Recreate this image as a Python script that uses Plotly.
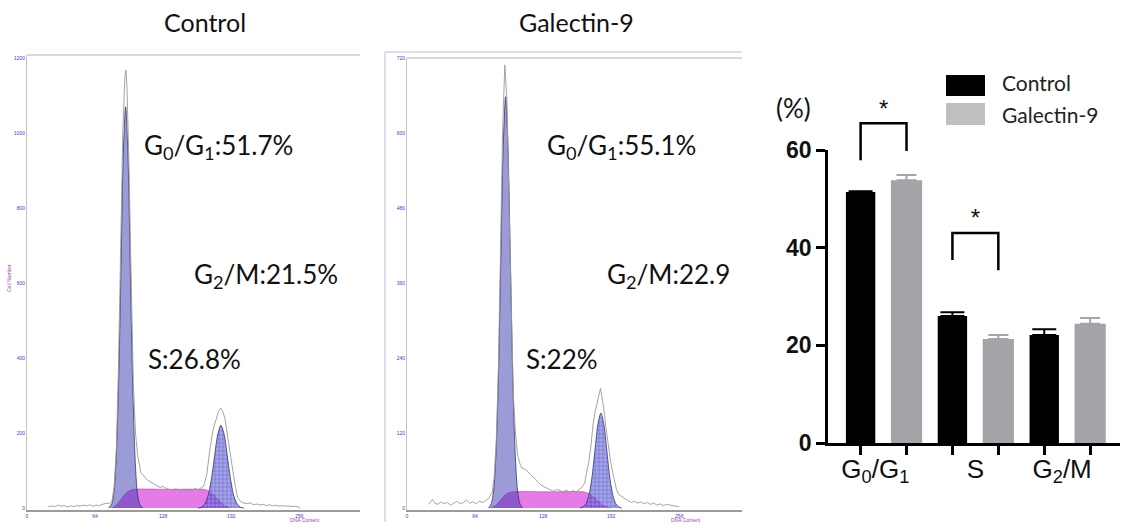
import numpy as np
import plotly.graph_objects as go

W, H = 1121, 527

# ---------------- data ----------------
hist_x_ticks = [0, 64, 128, 192, 256]
ctrl_y_ticks = [0, 200, 400, 600, 800, 1000, 1200]
gal_y_ticks = [0, 120, 240, 360, 480, 600, 720]

# Control histogram: raw counts (gray trace)
ctrl_raw_ch = [20, 23, 26, 29, 32, 35, 38, 41, 44, 47, 50, 53, 56, 59, 62, 65, 68, 71, 74, 77,
               80, 82, 84, 86, 88, 90, 92, 93, 94, 96, 98, 100, 102, 104, 107, 110, 113, 116, 119,
               122, 125, 128, 131, 134, 137, 140, 143, 146, 149, 152, 155, 158, 161, 164, 166, 169,
               172, 175, 178, 180, 182, 184, 186, 188, 190, 192, 194, 196, 198, 200, 203, 207, 210,
               213, 216, 219, 222, 225, 228, 231, 234, 237, 240, 243, 246, 249, 252, 255, 257]
ctrl_raw_n = [3, 6, 4, 8, 5, 7, 3, 6, 4, 7, 5, 8, 6, 9, 5, 8, 7, 10, 13, 12,
              20, 60, 160, 380, 700, 1000, 1150, 1168, 1120, 900, 600, 330, 200, 140, 95, 85, 75, 70, 66,
              60, 55, 58, 52, 50, 48, 52, 46, 49, 44, 50, 46, 52, 49, 55, 58, 90,
              160, 210, 240, 258, 267, 258, 240, 200, 160, 120, 90, 55, 28, 20, 14, 12, 14,
              9, 11, 8, 10, 7, 9, 6, 8, 5, 7, 5, 6, 4, 5, 3, 0]
# Control fitted components
ctrl_g1_ch = [76.7, 79.7, 81.9, 84.0, 86.2, 88.4, 90.5, 92.7, 94.9, 97.0, 99.2, 101.4, 103.5, 105.7, 108.7]
ctrl_g1_n = [0, 12, 47, 145, 347, 649, 944, 1070, 944, 649, 347, 145, 47, 12, 0]
ctrl_s_ch = [80, 84, 88, 92, 96, 100, 135, 166, 170, 175, 180, 185, 190]
ctrl_s_n = [0, 8, 22, 37, 46, 50, 50, 50, 47, 37, 22, 8, 0]
ctrl_g2_ch = [160.6, 163.7, 166.8, 169.9, 173.0, 176.1, 179.2, 182.3, 185.4, 188.5, 191.6, 194.7, 197.8, 200.9, 204.0]
ctrl_g2_n = [0, 2, 10, 30, 72, 134, 195, 221, 195, 134, 72, 30, 10, 2, 0]

# Galectin-9 histogram: raw counts
gal_raw_ch = [20, 22, 24, 26, 29, 32, 35, 38, 41, 44, 47, 50, 53, 56, 59, 62, 65, 68, 71, 74, 77,
              80, 82, 84, 86, 88, 90, 92, 94, 96, 98, 100, 102, 104, 106, 108, 111, 114, 117, 120,
              123, 126, 129, 132, 135, 138, 141, 144, 147, 150, 153, 156, 159, 162, 165, 167, 169,
              171, 173, 175, 177, 179, 181, 182, 183, 185, 187, 189, 191, 193, 195, 197, 199, 202,
              205, 208, 211, 214, 217, 220, 223, 226, 229, 232, 235, 238, 241, 244, 247, 250, 253, 256]
gal_raw_n = [6, 10, 14, 8, 6, 10, 7, 9, 5, 8, 11, 7, 9, 13, 8, 10, 7, 11, 9, 12, 16,
             25, 50, 110, 230, 420, 610, 709, 650, 480, 300, 180, 120, 85, 72, 64, 62, 58, 52, 48,
             42, 37, 34, 31, 29, 27, 30, 28, 26, 29, 25, 28, 26, 30, 34, 40, 55,
             75, 100, 135, 155, 172, 188, 192, 180, 160, 130, 100, 80, 60, 45, 30, 22, 18,
             15, 12, 9, 11, 8, 10, 7, 9, 6, 8, 5, 7, 4, 6, 5, 4, 3, 2]
gal_g1_ch = [76.7, 79.2, 81.5, 83.7, 86.0, 88.2, 90.5, 92.7, 94.9, 97.2, 99.4, 101.7, 103.9, 106.2, 108.7]
gal_g1_n = [0, 7, 29, 89, 214, 399, 581, 658, 581, 399, 214, 89, 29, 7, 0]
gal_s_ch = [79, 83, 87, 91, 95, 99, 135, 166, 170, 175, 180, 185, 191]
gal_s_n = [0, 4, 11, 19, 24, 26, 26, 26, 24, 19, 11, 4, 0]
gal_g2_ch = [162.7, 165.5, 168.3, 171.1, 173.9, 176.7, 179.5, 182.3, 185.1, 187.9, 190.7, 193.5, 196.3, 199.1, 201.9]
gal_g2_n = [0, 2, 7, 21, 49, 92, 134, 152, 134, 92, 49, 21, 7, 2, 0]

ctrl_labels = ["G<sub>0</sub>/G<sub>1</sub>:51.7%", "G<sub>2</sub>/M:21.5%", "S:26.8%"]
gal_labels = ["G<sub>0</sub>/G<sub>1</sub>:55.1%", "G<sub>2</sub>/M:22.9", "S:22%"]

# Bar chart
phases = ["G<sub>0</sub>/G<sub>1</sub>", "S", "G<sub>2</sub>/M"]
ctrl_pct = [51.4, 26.0, 22.1]
ctrl_err = [0.15, 0.8, 1.2]
gal_pct = [53.8, 21.3, 24.4]
gal_err = [1.1, 0.8, 1.2]
bar_y_ticks = [0, 20, 40, 60]
# significance brackets (pairs of bar indices) and heights in %
sig_pairs = [(0, 1), (2, 3)]
sig_top = [65.5, 43.0]
sig_left_end = [57.9, 37.5]
sig_right_end = [59.8, 35.4]
sig_star_y = [67.9, 45.6]

# ---------------- styling ----------------
PINK = "#e67ae6"
G1_FILL = "rgba(55,55,175,0.5)"
G2_BG = "rgba(62,62,198,0.62)"
RAW = "#9a9a9a"
BLUE_TXT = "#3a3ae0"
MAG_TXT = "#b040b0"
GAL_GRAY = "#a3a3a8"


def px(x):
    return x / W


def py(y):
    return 1 - y / H


fig = go.Figure()


def add_hist(xa, ya, raw_ch, raw_n, g1_ch, g1_n, s_ch, s_n, g2_ch, g2_n):
    common = dict(xaxis=xa, yaxis=ya, hoverinfo="skip", showlegend=False, mode="lines")
    fig.add_trace(go.Scatter(x=s_ch, y=s_n, fill="tozeroy", fillcolor=PINK,
                             line=dict(color="rgba(150,60,150,0.7)", width=0.7, shape="spline", smoothing=0.8),
                             **common))
    fig.add_trace(go.Scatter(x=g1_ch, y=g1_n, fill="tozeroy", fillcolor=G1_FILL,
                             line=dict(color="rgba(45,45,100,0.85)", width=0.9, shape="spline", smoothing=0.8),
                             **common))
    fig.add_trace(go.Scatter(x=g2_ch, y=g2_n, fill="tozeroy",
                             fillpattern=dict(shape="+", bgcolor=G2_BG, fgcolor="rgba(255,255,255,0.6)",
                                              size=4, solidity=0.2, fillmode="replace"),
                             line=dict(color="rgba(45,45,110,0.85)", width=0.9, shape="spline", smoothing=0.8),
                             **common))
    fig.add_trace(go.Scatter(x=raw_ch, y=raw_n, line=dict(color=RAW, width=0.9), **common))


add_hist("x", "y", ctrl_raw_ch, ctrl_raw_n, ctrl_g1_ch, ctrl_g1_n, ctrl_s_ch, ctrl_s_n, ctrl_g2_ch, ctrl_g2_n)
add_hist("x2", "y2", gal_raw_ch, gal_raw_n, gal_g1_ch, gal_g1_n, gal_s_ch, gal_s_n, gal_g2_ch, gal_g2_n)

# bars
idx = np.arange(len(phases))
x_ctrl = 2 * idx
x_gal = 2 * idx + 1
fig.add_trace(go.Bar(x=x_ctrl, y=ctrl_pct, width=0.64, marker=dict(color="black", line=dict(width=0)),
                     error_y=dict(type="data", array=ctrl_err, arrayminus=[0] * len(ctrl_err), symmetric=False,
                                  color="black", thickness=2, width=12),
                     xaxis="x3", yaxis="y3", showlegend=False, hoverinfo="skip"))
fig.add_trace(go.Bar(x=x_gal, y=gal_pct, width=0.68, marker=dict(color=GAL_GRAY, line=dict(width=0)),
                     error_y=dict(type="data", array=gal_err, arrayminus=[0] * len(gal_err), symmetric=False,
                                  color=GAL_GRAY, thickness=2, width=10),
                     xaxis="x3", yaxis="y3", showlegend=False, hoverinfo="skip"))
# invisible trace so that the category-label axis is drawn
fig.add_trace(go.Scatter(x=[(a + b) / 2 for a, b in zip(x_ctrl, x_gal)], y=[0] * len(phases), mode="markers",
                         marker=dict(opacity=0), xaxis="x4", yaxis="y3", showlegend=False, hoverinfo="skip"))

# significance brackets
bx, by, sx = [], [], []
for (a, b), top, le, re in zip(sig_pairs, sig_top, sig_left_end, sig_right_end):
    bx += [a, a, b, b, None]
    by += [le, top, top, re, None]
    sx.append((a + b) / 2)
fig.add_trace(go.Scatter(x=bx, y=by, mode="lines", line=dict(color="black", width=2.5),
                         xaxis="x3", yaxis="y4", showlegend=False, hoverinfo="skip", cliponaxis=False))
fig.add_trace(go.Scatter(x=sx, y=sig_star_y, mode="text", text=["*"] * len(sx),
                         textfont=dict(family="Liberation Sans", size=24, color="#111"),
                         xaxis="x3", yaxis="y4", showlegend=False, hoverinfo="skip", cliponaxis=False))

# ---------------- axes ----------------
hist_tick = dict(size=5, color=BLUE_TXT, family="Liberation Sans")
bar_dom_y = [py(443), py(150)]
bar_range = [0, 60]
y4_top = 1.0
y4_range = [0, bar_range[1] * (y4_top - bar_dom_y[0]) / (bar_dom_y[1] - bar_dom_y[0])]
x3_range = [-0.71, 5.65]

fig.update_layout(
    width=W, height=H, margin=dict(l=0, r=0, t=0, b=0, autoexpand=False),
    paper_bgcolor="white", plot_bgcolor="rgba(0,0,0,0)",
    xaxis=dict(domain=[px(27), px(360)], range=[0, 313], anchor="y", tickvals=hist_x_ticks,
               tickfont=hist_tick, showline=True, linecolor="#9a9a9a", linewidth=2, ticks="",
               showgrid=False, zeroline=False, automargin=False),
    yaxis=dict(domain=[py(510), py(55)], range=[-5, 1208], anchor="x", tickvals=ctrl_y_ticks,
               tickfont=hist_tick, showline=True, linecolor="#c4c4c4", linewidth=1, ticks="",
               showgrid=False, zeroline=False, automargin=False),
    xaxis2=dict(domain=[px(407), px(742)], range=[0, 315], anchor="y2", tickvals=hist_x_ticks,
                tickfont=hist_tick, showline=True, linecolor="#9a9a9a", linewidth=2, ticks="",
                showgrid=False, zeroline=False, automargin=False),
    yaxis2=dict(domain=[py(510), py(58)], range=[-3, 720], anchor="x2", tickvals=gal_y_ticks,
                tickfont=hist_tick, showline=True, linecolor="#c4c4c4", linewidth=1, ticks="",
                showgrid=False, zeroline=False, automargin=False),
    xaxis3=dict(domain=[px(828), px(1120)], range=x3_range, anchor="y3", tickvals=list(range(6)),
                ticktext=[""] * 6, ticks="outside", ticklen=9, tickwidth=2.5, tickcolor="black",
                showline=True, linecolor="black", linewidth=2.5, showgrid=False, zeroline=False,
                automargin=False),
    xaxis4=dict(overlaying="x3", range=x3_range, anchor="y3", side="bottom",
                tickvals=[0.5 - 0.18, 2.5, 4.5 - 0.11], ticktext=phases, ticks="", ticklabelstandoff=8,
                tickfont=dict(family="Liberation Sans", size=26, color="#111"),
                showline=False, showgrid=False, zeroline=False, automargin=False),
    yaxis3=dict(domain=bar_dom_y, range=bar_range, anchor="x3", tickvals=bar_y_ticks,
                ticks="outside", ticklen=9, tickwidth=2.5, tickcolor="black",
                tickfont=dict(family="Liberation Sans", size=23, color="#111", weight="bold"),
                showline=True, linecolor="black", linewidth=2.5, showgrid=False, zeroline=False,
                automargin=False),
    yaxis4=dict(domain=[bar_dom_y[0], y4_top], range=y4_range, anchor="x3", visible=False,
                automargin=False),
)

# ---------------- frames ----------------
shapes = [
    dict(type="line", xref="x domain", yref="y domain", x0=0, x1=1, y0=1, y1=1,
         line=dict(color="#d5d9e3", width=2)),
    dict(type="line", xref="x2 domain", yref="y2 domain", x0=0, x1=1, y0=1, y1=1,
         line=dict(color="#d5d9e3", width=2)),
    dict(type="line", xref="paper", yref="paper", x0=px(385), x1=px(742), y0=py(52), y1=py(52),
         line=dict(color="#cdd6e6", width=1.5)),
    dict(type="line", xref="paper", yref="paper", x0=px(385), x1=px(385), y0=py(52), y1=py(522),
         line=dict(color="#cdd6e6", width=1.5)),
    # legend swatches
    dict(type="rect", xref="paper", yref="paper", x0=px(946), x1=px(985), y0=py(96), y1=py(75),
         fillcolor="black", line=dict(width=0)),
    dict(type="rect", xref="paper", yref="paper", x0=px(946), x1=px(985), y0=py(125), y1=py(103),
         fillcolor="#bfbfbf", line=dict(width=0)),
]
fig.update_layout(shapes=shapes)

ann = []


def txt(t, x, y, size, xanchor="left", yanchor="middle", color="#111", family="Lato", angle=0):
    ann.append(dict(text=t, x=px(x), y=py(y), xref="paper", yref="paper", showarrow=False,
                    xanchor=xanchor, yanchor=yanchor, textangle=angle,
                    font=dict(family=family, size=size, color=color)))


txt("Control", 205, 22, 25, xanchor="center")
txt("Galectin-9", 576, 22, 25, xanchor="center")
for t, (x, y) in zip(ctrl_labels, [(142, 146), (192, 275), (146, 359)]):
    txt(t, x, y, 26)
for t, (x, y) in zip(gal_labels, [(545, 146), (605, 275), (524, 359)]):
    txt(t, x, y, 26)
txt("Cell Number", 9, 278, 5, xanchor="center", color=MAG_TXT, family="Liberation Sans", angle=-90)
txt("DNA Content", 305, 520, 5, xanchor="center", color=MAG_TXT, family="Liberation Sans")
txt("DNA Content", 686, 520, 5, xanchor="center", color=MAG_TXT, family="Liberation Sans")
txt("(%)", 793, 108, 26, xanchor="center")
txt("Control", 1000, 82, 21, color="#222")
txt("Galectin-9", 1000, 114, 21, color="#222")
fig.update_layout(annotations=ann)

fig.write_html("out.html", config={"displayModeBar": False},
               post_script="document.body.style.margin='0px';document.body.style.overflow='hidden';")
